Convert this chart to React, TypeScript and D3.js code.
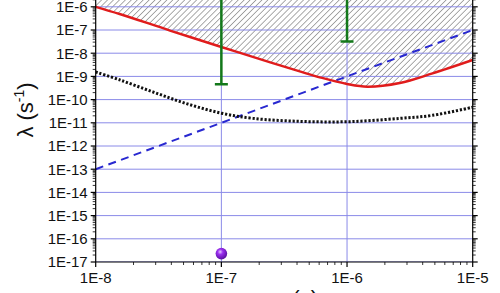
import React from "react";
import * as d3 from "d3";

const redTau = [1e-8, 1.55e-8, 3.9e-8, 1e-7, 2.45e-7, 4.27e-7, 6.17e-7, 1e-6, 1.45e-6, 2.63e-6, 4.79e-6, 1e-5];
const redLambda = [1e-6, 4.9e-7, 9.5e-8, 1.85e-8, 4.0e-9, 1.6e-9, 8.9e-10, 4.7e-10, 3.6e-10, 5.2e-10, 1.35e-9, 5.1e-9];

const dotTau = [1e-8, 1.55e-8, 2.88e-8, 5.37e-8, 1e-7, 1.78e-7, 4.27e-7, 1.05e-6, 2.63e-6, 4.79e-6, 1e-5];
const dotLambda = [1.55e-9, 7.1e-10, 2.1e-10, 6.5e-11, 2.6e-11, 1.55e-11, 1.15e-11, 1.12e-11, 1.55e-11, 2.1e-11, 4.7e-11];

const dashTau = [1e-8, 1e-5];
const dashLambda = [1e-13, 1e-7];

const errTau = [1e-7, 1e-6];
const errLower = [4.6e-10, 3.2e-8];
const errUpper = [1e-4, 1e-4];

const pointTau = [1e-7];
const pointLambda = [2.3e-17];

const xTickExps = [-8, -7, -6, -5];
const yTickExps = [-17, -16, -15, -14, -13, -12, -11, -10, -9, -8, -7, -6];
const xGridExps = [-7, -6];

const W = 500;
const H = 293;
const left = 95.7;
const right = 472.7;
const bottom = 262;
const topY = 6.8;

export default function App() {
  const x = d3.scaleLog().domain([1e-8, 1e-5]).range([left, right]);
  const y = d3.scaleLog().domain([1e-17, 1e-6]).range([bottom, topY]);

  const red = redTau.map((t, i) => [t, redLambda[i]] as [number, number]);
  const dots = dotTau.map((t, i) => [t, dotLambda[i]] as [number, number]);
  const dash = dashTau.map((t, i) => [t, dashLambda[i]] as [number, number]);

  const line = d3
    .line<[number, number]>()
    .x((d) => x(d[0]))
    .y((d) => y(d[1]))
    .curve(d3.curveCatmullRom.alpha(0.5));
  const area = d3
    .area<[number, number]>()
    .x((d) => x(d[0]))
    .y0(-20)
    .y1((d) => y(d[1]))
    .curve(d3.curveCatmullRom.alpha(0.5));

  const yMinor: number[] = [];
  for (let e = -17; e < -5; e++) {
    for (let m = 2; m <= 9; m++) {
      const v = m * Math.pow(10, e);
      if (y(v) >= -5) yMinor.push(v);
    }
  }
  const xMinor: number[] = [];
  for (let e = -8; e < -5; e++) {
    for (let m = 2; m <= 9; m++) xMinor.push(m * Math.pow(10, e));
  }

  const font = "'Liberation Sans', Arial, sans-serif";
  const gridColor = "#8a8ae8";

  return (
    <svg
      width={W}
      height={H}
      style={{ position: "absolute", left: 0, top: 0, background: "#fff" }}
      fontFamily={font}
    >
      <defs>
        <pattern id="hatch" patternUnits="userSpaceOnUse" width={4.2} height={4.2} patternTransform="rotate(45)">
          <line x1={0} y1={0} x2={0} y2={4.2} stroke="#666" strokeWidth={1.1} />
        </pattern>
        <radialGradient id="ball" cx="40%" cy="35%" r="65%">
          <stop offset="0%" stopColor="#e8c8ff" />
          <stop offset="35%" stopColor="#9b30f0" />
          <stop offset="100%" stopColor="#5a10a0" />
        </radialGradient>
        <clipPath id="plot">
          <rect x={left} y={-20} width={right - left} height={bottom + 20} />
        </clipPath>
      </defs>
      <rect width={W} height={H} fill="#fff" />
      <g clipPath="url(#plot)">
        <path d={area(red) || ""} fill="url(#hatch)" />
        {yTickExps.map((e) => (
          <line key={"gy" + e} x1={left} x2={right} y1={y(Math.pow(10, e))} y2={y(Math.pow(10, e))} stroke={gridColor} strokeWidth={1} />
        ))}
        {xGridExps.map((e) => (
          <line key={"gx" + e} x1={x(Math.pow(10, e))} x2={x(Math.pow(10, e))} y1={-20} y2={bottom} stroke={gridColor} strokeWidth={1} />
        ))}
        <path d={line(dash) || ""} fill="none" stroke="#2828d0" strokeWidth={2} strokeDasharray="8,5.5" />
        <path d={line(dots) || ""} fill="none" stroke="#111" strokeWidth={3} strokeDasharray="2.2,1.8" />
        <path d={line(red) || ""} fill="none" stroke="#e01c1c" strokeWidth={2.4} />
        {errTau.map((t, i) => (
          <g key={"e" + i} stroke="#13781a" strokeWidth={2.5}>
            <line x1={x(t)} x2={x(t)} y1={y(errUpper[i])} y2={y(errLower[i])} />
            <line x1={x(t) - 6.5} x2={x(t) + 6.5} y1={y(errLower[i])} y2={y(errLower[i])} />
          </g>
        ))}
        {pointTau.map((t, i) => (
          <circle key={"p" + i} cx={x(t)} cy={y(pointLambda[i])} r={5.8} fill="url(#ball)" />
        ))}
      </g>
      <g stroke="#000" strokeWidth={1.2}>
        <line x1={left} x2={left} y1={-5} y2={bottom} />
        <line x1={right} x2={right} y1={-5} y2={bottom} />
        <line x1={left} x2={right} y1={bottom} y2={bottom} />
        {yTickExps.map((e) => (
          <g key={"yt" + e}>
            <line x1={left - 5} x2={left} y1={y(Math.pow(10, e))} y2={y(Math.pow(10, e))} />
            <line x1={right} x2={right + 5} y1={y(Math.pow(10, e))} y2={y(Math.pow(10, e))} />
          </g>
        ))}
        {yMinor.map((v, i) => (
          <g key={"ym" + i} strokeWidth={0.8}>
            <line x1={left - 3} x2={left} y1={y(v)} y2={y(v)} />
            <line x1={right} x2={right + 3} y1={y(v)} y2={y(v)} />
          </g>
        ))}
        {xTickExps.map((e) => (
          <line key={"xt" + e} x1={x(Math.pow(10, e))} x2={x(Math.pow(10, e))} y1={bottom} y2={bottom + 5} />
        ))}
        {xMinor.map((v, i) => (
          <line key={"xm" + i} x1={x(v)} x2={x(v)} y1={bottom} y2={bottom + 3} strokeWidth={0.8} />
        ))}
      </g>
      {yTickExps.map((e) => (
        <text key={"yl" + e} x={left - 8} y={y(Math.pow(10, e))} dy="0.36em" textAnchor="end" fontSize={15} fill="#111">
          {"1E" + e}
        </text>
      ))}
      {xTickExps.map((e) => (
        <text key={"xl" + e} x={x(Math.pow(10, e))} y={bottom + 21} textAnchor="middle" fontSize={15} fill="#111">
          {"1E" + e}
        </text>
      ))}
      <text transform="translate(33,110) rotate(-90)" textAnchor="middle" fontSize={22} fill="#111">
        {"λ (s"}
        <tspan fontSize={14} dy={-9}>{"-1"}</tspan>
        <tspan dy={9}>{")"}</tspan>
      </text>
      <text x={318} y={306} textAnchor="end" fontSize={22} fill="#111">
        {"τ (s)"}
      </text>
    </svg>
  );
}
